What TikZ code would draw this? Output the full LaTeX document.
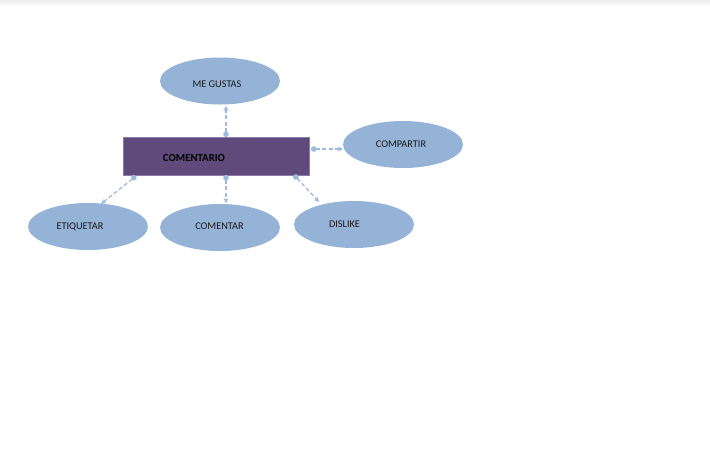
\documentclass[tikz,border=0pt]{standalone}
\usepackage{fontspec}
\setmainfont{Carlito}
\usetikzlibrary{arrows.meta,shapes.geometric}
\definecolor{boxfill}{HTML}{604A7B}
\definecolor{boxline}{HTML}{8C7AAE}
\definecolor{bubble}{HTML}{95B3D7}
\definecolor{linkc}{HTML}{9ABAE0}
\definecolor{txt}{HTML}{1A1A1A}
\tikzset{
  bubblenode/.style={ellipse, fill=bubble, draw=none, minimum width=120pt, minimum height=47pt, inner sep=0pt},
  mainbox/.style={rectangle, fill=boxfill, draw=boxline, line width=0.8pt, minimum width=186pt, minimum height=38pt, inner sep=0pt},
  word/.style={font=\fontsize{10.3}{12}\selectfont, text=txt, inner sep=0pt},
  conn/.style={draw=linkc, line width=1.3pt, dash pattern=on 4pt off 2.5pt,
    {Circle[length=5.5pt,fill=linkc]}-{Stealth[length=5pt,width=5pt,fill=linkc]}}
}
\begin{document}
\begin{tikzpicture}[x=1pt,y=-1pt]
  \useasboundingbox (0,0) rectangle (710,459);
  \fill[white] (0,0) rectangle (710,459);
  \shade[top color=black!8, bottom color=white] (0,0) rectangle (710,6);

  % central box
  \node[mainbox] (com) at (216,156) {};
  \node[word, font=\fontsize{10.8}{12}\selectfont\bfseries, text=black] (comt) at (194,158) {COMENTARIO};

  % surrounding bubbles
  \node[bubblenode] (mg) at (220,81) {};
  \node[word] (mgt) at (217,84) {ME GUSTAS};

  \node[bubblenode] (cp) at (403,144.5) {};
  \node[word] (cpt) at (401,144.5) {COMPARTIR};

  \node[bubblenode] (et) at (88,226.5) {};
  \node[word] (ett) at (80,226.5) {ETIQUETAR};

  \node[bubblenode] (cm) at (220,227.5) {};
  \node[word] (cmt) at (219.5,226.5) {COMENTAR};

  \node[bubblenode] (dl) at (354,224.5) {};
  \node[word] (dlt) at (344.5,224.5) {DISLIKE};

  % links from the box to the bubbles
  \coordinate (pmg) at (226,137);
  \coordinate (amg) at (226,106);
  \coordinate (pcp) at (311,149);
  \coordinate (acp) at (343,149);
  \coordinate (pet) at (136,176);
  \coordinate (aet) at (101,204);
  \coordinate (pcm) at (226,175);
  \coordinate (acm) at (226,203);
  \coordinate (pdl) at (294,175);
  \coordinate (adl) at (319,202);

  \draw[conn] (pmg) -- (amg);
  \draw[conn] (pcp) -- (acp);
  \draw[conn] (pet) -- (aet);
  \draw[conn] (pcm) -- (acm);
  \draw[conn] (pdl) -- (adl);
\end{tikzpicture}
\end{document}
